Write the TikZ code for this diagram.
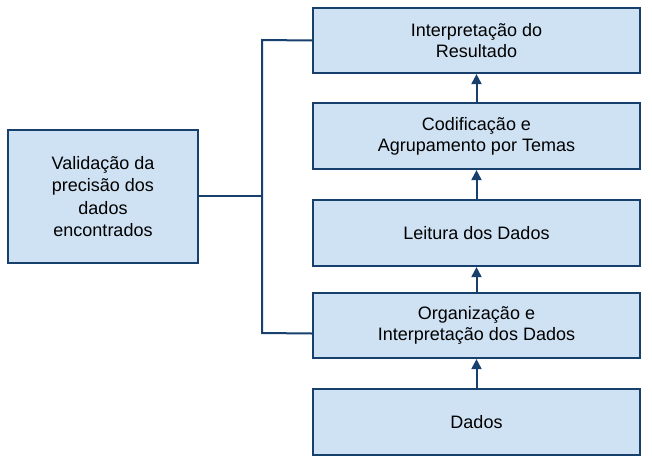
\documentclass[tikz,border=0pt]{standalone}
\usepackage{fontspec}
\setmainfont{Liberation Sans}
\usetikzlibrary{arrows.meta}
\definecolor{bord}{HTML}{17406D}
\definecolor{fillb}{HTML}{CFE2F3}
\begin{document}
\begin{tikzpicture}[x=1pt,y=-1pt,
  boxstyle/.style={draw=bord,fill=fillb,line width=2.2pt,align=center,inner sep=0pt,
    font=\fontsize{18}{21}\selectfont},
  conn/.style={draw=bord,line width=2pt},
  arr/.style={draw=bord,line width=2pt,-{Triangle[length=10pt,width=10pt]}}]
\useasboundingbox (0,0) rectangle (652,463);
\node[boxstyle,minimum width=327pt,minimum height=65pt] (b1) at (476.5,40.5) {Interpretação do\\Resultado};
\node[boxstyle,minimum width=327pt,minimum height=66pt] (b2) at (476.5,136) {Codificação e\\Agrupamento por Temas};
\node[boxstyle,minimum width=327pt,minimum height=66pt] (b3) at (476.5,233) {Leitura dos Dados};
\node[boxstyle,minimum width=327pt,minimum height=65pt] (b4) at (476.5,325.5) {Organização e\\Interpretação dos Dados};
\node[boxstyle,minimum width=327pt,minimum height=66pt] (b5) at (476.5,422) {Dados};
\node[boxstyle,minimum width=190pt,minimum height=133pt,font=\fontsize{18}{22.5}\selectfont] (v) at (103,196.5) {Validação da\\precisão dos\\dados\\encontrados};
\coordinate (t) at (262,40);
\coordinate (m) at (262,196);
\coordinate (bt) at (262,333);
\draw[conn] (b1.west |- 0,40.5) -- (t) -- (bt) -- (b4.west |- 0,333.5);
\draw[conn] (v.east |- m) -- (m);
\draw[arr] (b5.north) -- (b4.south);
\draw[arr] (b4.north) -- (b3.south);
\draw[arr] (b3.north) -- (b2.south);
\draw[arr] (b2.north) -- (b1.south);
\end{tikzpicture}
\end{document}
